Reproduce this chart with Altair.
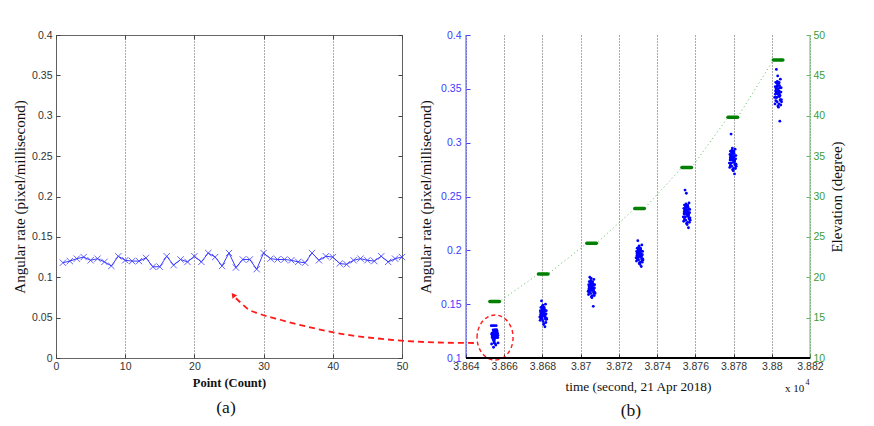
import altair as alt
import pandas as pd

# ---------------- data: panel (a) ----------------
point_a = list(range(1, 51))
rate_a = [0.118, 0.120, 0.123, 0.125, 0.121, 0.123, 0.119, 0.114, 0.126, 0.121,
          0.120, 0.120, 0.124, 0.113, 0.113, 0.126, 0.115, 0.122, 0.119, 0.126,
          0.119, 0.130, 0.125, 0.114, 0.130, 0.112, 0.122, 0.122, 0.110, 0.130,
          0.123, 0.122, 0.122, 0.121, 0.119, 0.118, 0.130, 0.121, 0.126, 0.125,
          0.117, 0.116, 0.121, 0.123, 0.121, 0.120, 0.126, 0.119, 0.123, 0.125]
x_ticks_a = [0, 10, 20, 30, 40, 50]
y_ticks_a = [0, 0.05, 0.1, 0.15, 0.2, 0.25, 0.3, 0.35, 0.4]

# ---------------- data: panel (b) ----------------
cluster_start = [38652.5, 38677.9, 38703.2, 38728.3, 38753.0, 38777.1, 38800.8]
cluster_end = [38657.5, 38682.9, 38708.2, 38733.3, 38758.0, 38782.1, 38805.8]
cluster_elev = [17.0, 20.4, 24.2, 28.5, 33.6, 39.8, 46.9]
time_offsets = [2.6, 1.5, 3.4, 2.0, 3.0, 1.1, 3.9, 2.3, 1.7, 3.2,
                3.7, 1.3, 2.5, 2.9, 0.9, 3.5, 2.1, 1.8, 4.1, 2.7,
                1.2, 3.3, 2.2, 4.3, 1.6, 3.1, 1.4, 3.6, 1.9, 2.4,
                4.0, 1.0, 2.8, 1.3, 3.4, 2.2, 0.7, 3.2, 2.6, 3.8,
                1.7, 2.3, 4.2, 1.5, 2.9, 2.0, 3.5, 2.5, 1.6, 3.0]
rate_c2 = [0.141, 0.138, 0.144, 0.136, 0.147, 0.140, 0.133, 0.145, 0.142, 0.139,
           0.150, 0.137, 0.143, 0.146, 0.135, 0.141, 0.148, 0.138, 0.144, 0.131,
           0.142, 0.139, 0.145, 0.136, 0.153, 0.140, 0.143, 0.137, 0.146, 0.134,
           0.141, 0.144, 0.139, 0.147, 0.129, 0.142, 0.138, 0.145, 0.140, 0.136,
           0.143, 0.149, 0.137, 0.141, 0.132, 0.144, 0.139, 0.146, 0.140, 0.142]
rate_c3 = [0.165, 0.162, 0.168, 0.160, 0.171, 0.164, 0.158, 0.169, 0.166, 0.163,
           0.173, 0.161, 0.167, 0.170, 0.159, 0.165, 0.172, 0.162, 0.168, 0.156,
           0.166, 0.163, 0.169, 0.160, 0.175, 0.164, 0.167, 0.161, 0.170, 0.157,
           0.165, 0.168, 0.163, 0.171, 0.148, 0.166, 0.162, 0.169, 0.164, 0.160,
           0.167, 0.174, 0.161, 0.165, 0.158, 0.168, 0.163, 0.170, 0.164, 0.166]
rate_c4 = [0.196, 0.193, 0.199, 0.191, 0.202, 0.195, 0.189, 0.200, 0.197, 0.194,
           0.205, 0.192, 0.198, 0.201, 0.190, 0.196, 0.203, 0.193, 0.199, 0.187,
           0.197, 0.194, 0.200, 0.191, 0.209, 0.195, 0.198, 0.192, 0.201, 0.188,
           0.196, 0.199, 0.194, 0.202, 0.185, 0.197, 0.193, 0.200, 0.195, 0.191,
           0.198, 0.204, 0.192, 0.196, 0.189, 0.199, 0.194, 0.201, 0.195, 0.197]
rate_c5 = [0.235, 0.231, 0.238, 0.228, 0.242, 0.234, 0.226, 0.240, 0.236, 0.232,
           0.244, 0.229, 0.237, 0.241, 0.227, 0.235, 0.243, 0.231, 0.238, 0.224,
           0.236, 0.232, 0.240, 0.228, 0.256, 0.234, 0.237, 0.230, 0.241, 0.225,
           0.235, 0.239, 0.232, 0.242, 0.221, 0.236, 0.231, 0.240, 0.234, 0.229,
           0.238, 0.253, 0.230, 0.235, 0.226, 0.239, 0.233, 0.241, 0.234, 0.236]
rate_c6 = [0.285, 0.281, 0.288, 0.278, 0.292, 0.284, 0.276, 0.290, 0.286, 0.282,
           0.294, 0.279, 0.287, 0.291, 0.277, 0.285, 0.293, 0.281, 0.288, 0.274,
           0.286, 0.282, 0.290, 0.278, 0.308, 0.284, 0.287, 0.280, 0.291, 0.275,
           0.285, 0.289, 0.282, 0.292, 0.271, 0.286, 0.281, 0.290, 0.284, 0.279,
           0.288, 0.295, 0.280, 0.285, 0.276, 0.289, 0.283, 0.291, 0.284, 0.286]
rate_c7 = [0.347, 0.342, 0.351, 0.338, 0.356, 0.345, 0.335, 0.353, 0.348, 0.343,
           0.359, 0.339, 0.350, 0.355, 0.336, 0.347, 0.357, 0.342, 0.351, 0.333,
           0.348, 0.343, 0.353, 0.338, 0.368, 0.345, 0.350, 0.340, 0.355, 0.334,
           0.347, 0.352, 0.343, 0.356, 0.320, 0.348, 0.342, 0.353, 0.345, 0.339,
           0.351, 0.362, 0.340, 0.347, 0.336, 0.352, 0.344, 0.355, 0.346, 0.348]
rates_b = [rate_a, rate_c2, rate_c3, rate_c4, rate_c5, rate_c6, rate_c7]
x_ticks_b = [38640, 38660, 38680, 38700, 38720, 38740, 38760, 38780, 38800, 38820]
y_ticks_b = [0.1, 0.15, 0.2, 0.25, 0.3, 0.35, 0.4]
y2_ticks_b = [10, 15, 20, 25, 30, 35, 40, 45, 50]

# annotation (red dashed ellipse + arrow) in panel (b) data units
ellipse_t = [38655.2]
ellipse_r = [0.119]
arrow_t = [38645.2, 38625.3, 38608.6, 38594.0, 38578.3, 38561.0, 38543.2, 38532.2, 38525.9, 38521.7, 38519.6]
arrow_r = [0.1139, 0.1144, 0.1158, 0.1181, 0.1214, 0.1274, 0.1353, 0.1409, 0.1455, 0.1520, 0.1555]
head_t = [38518.2]
head_r = [0.1585]

# ---------------- styling ----------------
W_A, W_B, H = 346, 344, 323
SANS = "Liberation Sans"
SERIF = "Liberation Serif"
BLUE_A = "#3a3aff"
XPATH = "M -1 -1 L 1 1 M -1 1 L 1 -1"
ELLPATH = "M -0.8 0 A 0.8 1 0 1 1 0.8 0 A 0.8 1 0 1 1 -0.8 0 Z"

def inward(**kw):
    base = dict(labelFont=SANS, labelFontSize=10.5, labelColor="#333",
                tickColor="#444", tickSize=4, tickWidth=1, offset=-4,
                domain=False, minExtent=0, titleFont=SERIF, titleColor="#111",
                titleFontWeight="normal", labelFlush=False, labelOverlap=False)
    base.update(kw)
    return alt.Axis(**base)

# ---------------- panel (a) ----------------
df_a = pd.DataFrame({"point": point_a, "rate": rate_a})
xs_a = alt.Scale(domain=[0, 50], nice=False, zero=False)
ys_a = alt.Scale(domain=[0, 0.4], nice=False)

ax_bottom_a = inward(orient="bottom", values=x_ticks_a, format="d", grid=True,
                     gridDash=[1, 2], gridColor="#555", labelPadding=3,
                     title="Point (Count)", titleFontSize=12.5,
                     titleFontWeight="bold", titlePadding=5)
ax_left_a = inward(orient="left", values=y_ticks_a, format=".2~f", grid=False,
                   labelPadding=4, title="Angular rate (pixel/millisecond)",
                   titleFontSize=15, titlePadding=4)
ax_top_a = inward(orient="top", values=x_ticks_a, labels=False, grid=False, title=None)
ax_right_a = inward(orient="right", values=y_ticks_a, labels=False, grid=False, title=None)

line_a = alt.Chart(df_a).mark_line(color=BLUE_A, strokeWidth=1).encode(
    x=alt.X("point:Q", scale=xs_a, axis=ax_bottom_a),
    y=alt.Y("rate:Q", scale=ys_a, axis=ax_left_a),
)
pts_a = alt.Chart(df_a).mark_point(shape=XPATH, size=40, filled=False, color=BLUE_A,
                                   strokeWidth=0.8, opacity=1).encode(
    x=alt.X("point:Q", scale=xs_a, axis=ax_top_a),
    y=alt.Y("rate:Q", scale=ys_a, axis=ax_right_a),
)
panel_a = alt.layer(line_a, pts_a).resolve_axis(x="independent", y="independent").properties(
    width=W_A, height=H,
    view=alt.ViewBackground(stroke="#666", strokeWidth=1),
    title=alt.TitleParams("(a)", orient="bottom", font=SERIF, fontSize=17.5,
                          fontWeight="normal", color="#111", frame="group",
                          dx=-3, offset=10),
)

# ---------------- panel (b) ----------------
rows = []
for k, start in enumerate(cluster_start):
    for off, r in zip(time_offsets, rates_b[k]):
        rows.append({"time": start + off, "rate": r})
df_b = pd.DataFrame(rows)
df_dash = pd.DataFrame({"start": cluster_start, "end": cluster_end, "elev": cluster_elev})
line_rows = []
for s, e, v in zip(cluster_start, cluster_end, cluster_elev):
    line_rows.append({"time": s, "elev": v})
    line_rows.append({"time": e, "elev": v})
df_eline = pd.DataFrame(line_rows)
df_ell = pd.DataFrame({"t": ellipse_t, "r": ellipse_r})
df_arrow = pd.DataFrame({"t": arrow_t, "r": arrow_r})
df_head = pd.DataFrame({"t": head_t, "r": head_r})
one = pd.DataFrame({"k": [0]})

xs_b = alt.Scale(domain=[38640, 38820], nice=False, zero=False)
ys_rate = alt.Scale(domain=[0.1, 0.4], nice=False, zero=False)
ys_elev = alt.Scale(domain=[10, 50], nice=False, zero=False)

ax_bottom_b = inward(orient="bottom", values=x_ticks_b,
                     labelExpr="format(datum.value / 10000, '.4~f')",
                     grid=True, gridDash=[1, 2], gridColor="#555", labelPadding=3,
                     title="time (second, 21 Apr 2018)", titleFontSize=13.3,
                     titlePadding=8, tickColor="#333")
ax_left_b = inward(orient="left", values=y_ticks_b, format=".2~f", grid=False,
                   labelPadding=5, labelColor="#3c3cff", tickColor="#4444ff",
                   title="Angular rate (pixel/millisecond)", titleFontSize=15,
                   titlePadding=7)
ax_right_b = inward(orient="right", values=y2_ticks_b, format="d", grid=False,
                    labelPadding=3, labelColor="#3a9d3a", tickColor="#66bb66",
                    title="Elevation (degree)", titleFontSize=15, titlePadding=5,
                    titleAngle=270, titleBaseline="top")

pts_b = alt.Chart(df_b).mark_circle(size=8, color="#0000ff", opacity=1).encode(
    x=alt.X("time:Q", scale=xs_b, axis=ax_bottom_b),
    y=alt.Y("rate:Q", scale=ys_rate, axis=ax_left_b),
)
elev_line = alt.Chart(df_eline).mark_line(color="#5cb85c", strokeDash=[1, 3], strokeWidth=1).encode(
    x=alt.X("time:Q", scale=xs_b, axis=None),
    y=alt.Y("elev:Q", scale=ys_elev, axis=ax_right_b),
)
elev_dash = alt.Chart(df_dash).mark_rule(color="#008000", strokeWidth=3.5, strokeCap="round").encode(
    x=alt.X("start:Q", scale=xs_b, axis=None),
    x2="end:Q",
    y=alt.Y("elev:Q", scale=ys_elev, axis=None),
)
ellipse = alt.Chart(df_ell).mark_point(shape=ELLPATH, size=2025, filled=False, color="#ff1a1a",
                                       strokeWidth=1.4, strokeDash=[4, 3], opacity=1).encode(
    x=alt.X("t:Q", scale=xs_b, axis=None),
    y=alt.Y("r:Q", scale=ys_rate, axis=None),
)
arrow = alt.Chart(df_arrow).mark_line(color="#ff1a1a", strokeWidth=1.8, strokeDash=[6, 4],
                                      interpolate="monotone").encode(
    x=alt.X("t:Q", scale=xs_b, axis=None),
    y=alt.Y("r:Q", scale=ys_rate, axis=None),
)
head = alt.Chart(df_head).mark_point(shape="triangle-up", size=35, filled=True, color="#ff1a1a",
                                     angle=323, opacity=1).encode(
    x=alt.X("t:Q", scale=xs_b, axis=None),
    y=alt.Y("r:Q", scale=ys_rate, axis=None),
)
left_line = alt.Chart(one).mark_rule(color="#4444ff", strokeWidth=1).encode(
    x=alt.value(0), y=alt.value(0), y2=alt.value(H))
right_line = alt.Chart(one).mark_rule(color="#6cbf6c", strokeWidth=1).encode(
    x=alt.value(W_B), y=alt.value(0), y2=alt.value(H))
bottom_line = alt.Chart(one).mark_rule(color="#000000", strokeWidth=2).encode(
    x=alt.value(0), x2=alt.value(W_B), y=alt.value(H))
exp_txt = alt.Chart(one).mark_text(text="x 10", font=SERIF, fontSize=11, align="left",
                                   baseline="alphabetic", color="#111").encode(
    x=alt.value(319), y=alt.value(357))
exp_sup = alt.Chart(one).mark_text(text="4", font=SERIF, fontSize=8, align="left",
                                   baseline="alphabetic", color="#111").encode(
    x=alt.value(339.5), y=alt.value(350))

panel_b = alt.layer(
    pts_b, elev_line, elev_dash, ellipse, arrow, head,
    left_line, right_line, bottom_line, exp_txt, exp_sup,
).resolve_scale(y="independent").resolve_axis(x="independent", y="independent").properties(
    width=W_B, height=H,
    view=alt.ViewBackground(strokeWidth=0, stroke="transparent"),
    title=alt.TitleParams("(b)", orient="bottom", font=SERIF, fontSize=17.5,
                          fontWeight="normal", color="#111", frame="group",
                          dx=-7, offset=8),
)

chart = alt.hconcat(panel_a, panel_b, spacing=64, bounds="flush").properties(
    padding={"left": 4, "top": 21, "right": 5, "bottom": 2},
    background="white",
)

chart.save("out.html", embed_options={"renderer": "svg", "actions": False})
